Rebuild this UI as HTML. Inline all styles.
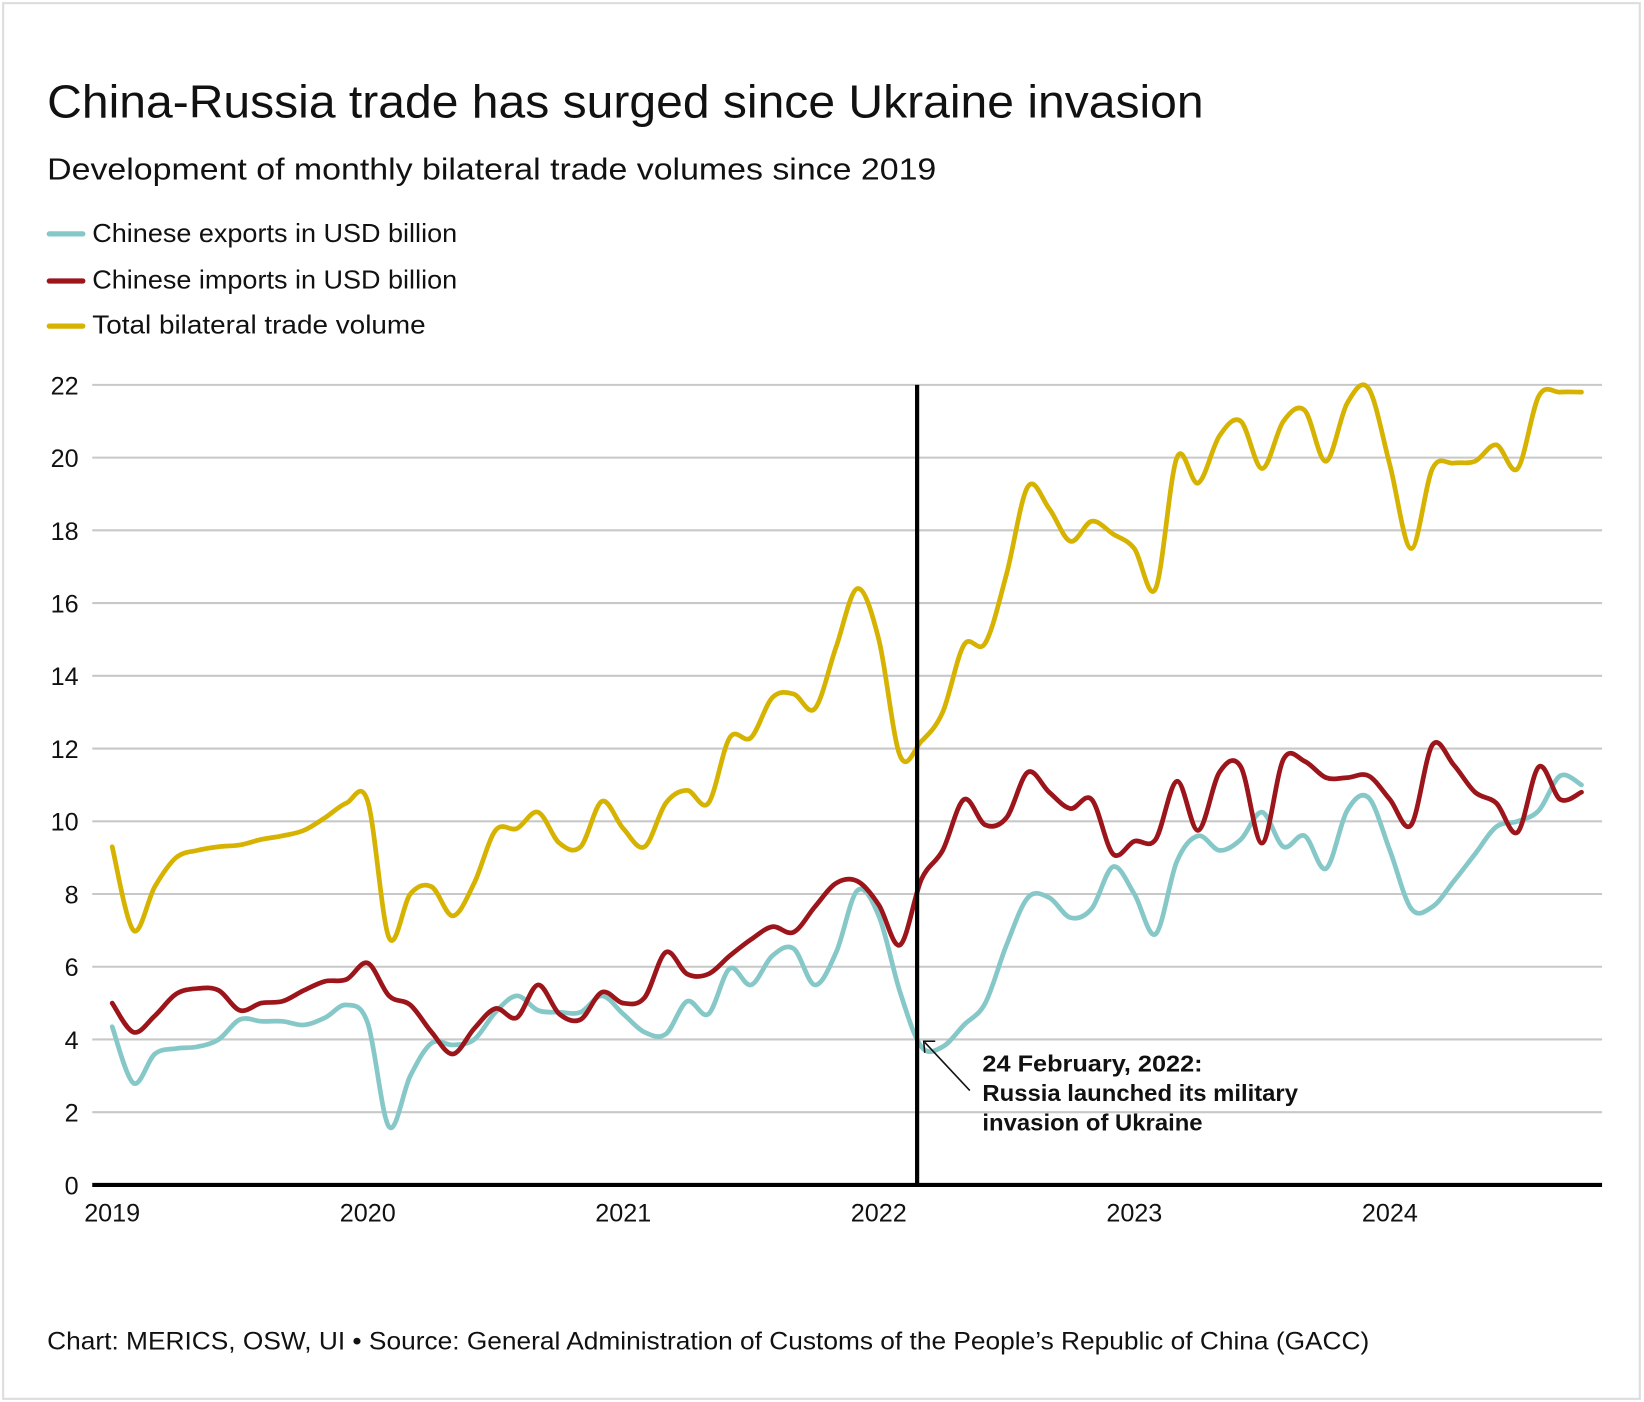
<!DOCTYPE html>
<html><head><meta charset="utf-8"><style>
html,body{margin:0;padding:0;background:#fff}
svg{display:block}
text{font-family:"Liberation Sans",sans-serif;fill:#111}
</style></head><body>
<svg id="chart" width="1644" height="1402" viewBox="0 0 1568 1337" preserveAspectRatio="none" xmlns="http://www.w3.org/2000/svg">
<rect x="3" y="3" width="1561" height="1331" fill="#fff" stroke="#ddd" stroke-width="2"/>
<text x="45" y="112" font-size="44" textLength="1103" lengthAdjust="spacingAndGlyphs">China-Russia trade has surged since Ukraine invasion</text>
<text x="45" y="171" font-size="29" textLength="848" lengthAdjust="spacingAndGlyphs">Development of monthly bilateral trade volumes since 2019</text>
<g>
<line x1="47" y1="223" x2="79" y2="223" stroke="#86c8c8" stroke-width="5" stroke-linecap="round"/>
<text x="88" y="231" font-size="25" textLength="348" lengthAdjust="spacingAndGlyphs">Chinese exports in USD billion</text>
<line x1="47" y1="268" x2="79" y2="268" stroke="#9b151b" stroke-width="5" stroke-linecap="round"/>
<text x="88" y="275" font-size="25" textLength="348" lengthAdjust="spacingAndGlyphs">Chinese imports in USD billion</text>
<line x1="47" y1="311" x2="79" y2="311" stroke="#d6b300" stroke-width="5" stroke-linecap="round"/>
<text x="88" y="318" font-size="25" textLength="318" lengthAdjust="spacingAndGlyphs">Total bilateral trade volume</text>
</g>
<g id="grid"></g>
<g id="series"></g>
<g id="axes"></g>
<g>
<line x1="925" y1="1040" x2="882" y2="994" stroke="#111" stroke-width="1.5"/>
<polyline points="882,1004 881,993 892,993" fill="none" stroke="#111" stroke-width="1.5"/>
<text x="937" y="1022" font-size="22" font-weight="bold" textLength="210" lengthAdjust="spacingAndGlyphs">24 February, 2022:</text>
<text x="937" y="1050" font-size="22" font-weight="bold" textLength="301" lengthAdjust="spacingAndGlyphs">Russia launched its military</text>
<text x="937" y="1078" font-size="22" font-weight="bold" textLength="210" lengthAdjust="spacingAndGlyphs">invasion of Ukraine</text>
</g>
<text x="45" y="1287" font-size="24" textLength="1261" lengthAdjust="spacingAndGlyphs">Chart: MERICS, OSW, UI • Source: General Administration of Customs of the People’s Republic of China (GACC)</text>
</svg>
<script>
const yearLabels = ["2019","2020","2021","2022","2023","2024"];
const yTicks = [0,2,4,6,8,10,12,14,16,18,20,22];
const exportsData = [4.35,2.8,3.6,3.75,3.8,4.0,4.55,4.5,4.5,4.4,4.6,4.95,4.45,1.6,3.0,3.9,3.85,4.0,4.75,5.2,4.8,4.75,4.75,5.2,4.7,4.2,4.15,5.05,4.7,5.95,5.5,6.3,6.5,5.5,6.4,8.1,7.4,5.3,3.8,3.8,4.4,5.0,6.6,7.9,7.9,7.35,7.6,8.75,8.0,6.9,8.9,9.6,9.2,9.5,10.25,9.3,9.6,8.7,10.3,10.65,9.2,7.6,7.65,8.35,9.1,9.85,10.0,10.3,11.25,11.0];
const importsData = [5.0,4.2,4.65,5.25,5.4,5.35,4.8,5.0,5.05,5.35,5.6,5.65,6.1,5.2,4.95,4.2,3.6,4.3,4.85,4.6,5.5,4.7,4.55,5.3,5.0,5.15,6.4,5.8,5.8,6.3,6.75,7.1,6.95,7.65,8.3,8.35,7.7,6.6,8.4,9.2,10.6,9.9,10.1,11.35,10.8,10.35,10.6,9.1,9.45,9.5,11.1,9.75,11.35,11.5,9.4,11.7,11.65,11.2,11.2,11.25,10.6,9.9,12.1,11.55,10.8,10.5,9.7,11.5,10.6,10.8];
const totalData = [9.3,7.0,8.2,9.0,9.2,9.3,9.35,9.5,9.6,9.75,10.1,10.5,10.55,6.8,8.0,8.2,7.4,8.3,9.75,9.8,10.25,9.4,9.3,10.55,9.8,9.3,10.5,10.85,10.5,12.3,12.3,13.4,13.5,13.1,14.8,16.4,15.0,11.8,12.2,13.0,14.85,14.9,16.8,19.2,18.6,17.7,18.25,17.9,17.5,16.4,20.0,19.3,20.6,21.0,19.7,21.0,21.3,19.9,21.5,21.9,19.8,17.5,19.7,19.85,19.9,20.35,19.7,21.7,21.8,21.8];
const invasionMonth = 37.8;

const NS="http://www.w3.org/2000/svg";
const X0=107, MONTH=20.31, Y0=1130, UNIT=34.68, LEFT=88, RIGHT=1528;
function xs(i){return X0+i*MONTH;}
function ys(v){return Y0-v*UNIT;}
function mk(tag,attrs,parent){const e=document.createElementNS(NS,tag);for(const k in attrs)e.setAttribute(k,attrs[k]);parent.appendChild(e);return e;}
const grid=document.getElementById('grid'), axes=document.getElementById('axes'), series=document.getElementById('series');
yTicks.forEach(t=>{
  if(t>0){const l=mk('line',{x1:LEFT,x2:RIGHT,y1:ys(t),y2:ys(t),stroke:'#c8c8c8','stroke-width':2},grid);
  
  }
  const tx=mk('text',{x:75,y:ys(t)+9,'font-size':24,'text-anchor':'end'},axes);
  tx.textContent=t;
  
  
});
yearLabels.forEach((y,k)=>{
  const tx=mk('text',{x:xs(k*12),y:1165,'font-size':24,'text-anchor':'middle'},axes);
  tx.textContent=y;
  
  
});
function pathFor(d){
  const p=d.map((v,i)=>[xs(i),ys(v)]);
  let s='M'+p[0][0]+','+p[0][1];
  for(let i=0;i<p.length-1;i++){
    const p0=p[Math.max(0,i-1)],p1=p[i],p2=p[i+1],p3=p[Math.min(p.length-1,i+2)];
    const t=0.5/3;
    s+=' C'+(p1[0]+(p2[0]-p0[0])*t)+','+(p1[1]+(p2[1]-p0[1])*t)+' '+(p2[0]-(p3[0]-p1[0])*t)+','+(p2[1]-(p3[1]-p1[1])*t)+' '+p2[0]+','+p2[1];
  }
  return s;
}
[[totalData,'#d6b300','line-total'],[exportsData,'#86c8c8','line-exports'],[importsData,'#9b151b','line-imports']].forEach(([d,c,n])=>{
  const pth=mk('path',{d:pathFor(d),fill:'none',stroke:c,'stroke-width':4.5,'stroke-linejoin':'round','stroke-linecap':'round'},series);
  
  
});
const vl=mk('line',{x1:xs(invasionMonth),x2:xs(invasionMonth),y1:ys(22),y2:Y0,stroke:'#000','stroke-width':4},axes);


const ax=mk('line',{x1:LEFT,x2:RIGHT,y1:Y0,y2:Y0,stroke:'#000','stroke-width':4},axes);


</script>
</body></html>
